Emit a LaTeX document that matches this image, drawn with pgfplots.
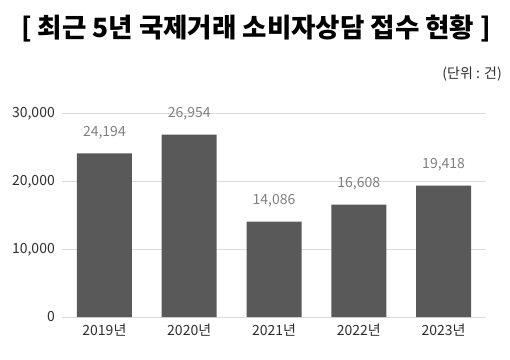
\documentclass[border=0pt]{standalone}
\usepackage{fontspec}
\setmainfont{Noto Sans CJK KR}
\usepackage{pgfplots}
\pgfplotsset{compat=1.18}
\definecolor{barc}{HTML}{595959}
\definecolor{gridc}{HTML}{DCDCDC}
\definecolor{labc}{HTML}{2E2E2E}
\definecolor{valc}{HTML}{7F7F7F}
\begin{document}
\begin{tikzpicture}[x=1pt,y=1pt]
\useasboundingbox (0,0) rectangle (510,359);
\node[font=\bfseries\fontsize{26.5}{30}\selectfont] at (256,330) {[ 최근 5년 국제거래 소비자상담 접수 현황 ]};
\node[anchor=east, inner sep=0pt, text=labc, font=\fontsize{14}{16}\selectfont] at (502,285) {(단위 : 건)};
\begin{axis}[
  at={(62pt,42pt)}, anchor=south west,
  scale only axis, width=424pt, height=203pt,
  ybar, bar width=55pt,
  xmin=-0.5, xmax=4.5, ymin=0, ymax=30000,
  xtick={0,1,2,3,4},
  xticklabels={2019년,2020년,2021년,2022년,2023년},
  ytick={0,10000,20000,30000},
  scaled y ticks=false,
  /pgf/number format/.cd, 1000 sep={,}, assume math mode=true, /pgfplots/.cd,
  axis line style={draw=none},
  major tick length=0pt,
  ymajorgrids, grid style={draw=gridc, line width=1pt},
  tick label style={text=labc, font=\fontsize{14}{16}\selectfont},
  yticklabel style={anchor=east, inner sep=0pt, xshift=-7pt},
  xticklabel style={anchor=center, inner sep=0pt, yshift=-13pt},
  nodes near coords,
  nodes near coords style={anchor=center, yshift=21pt, text=valc, font=\fontsize{14}{16}\selectfont},
  clip=false,
]
\addplot[fill=barc, draw=none] coordinates {(0,24194) (1,26954) (2,14086) (3,16608) (4,19418)};
\end{axis}
\end{tikzpicture}
\end{document}
